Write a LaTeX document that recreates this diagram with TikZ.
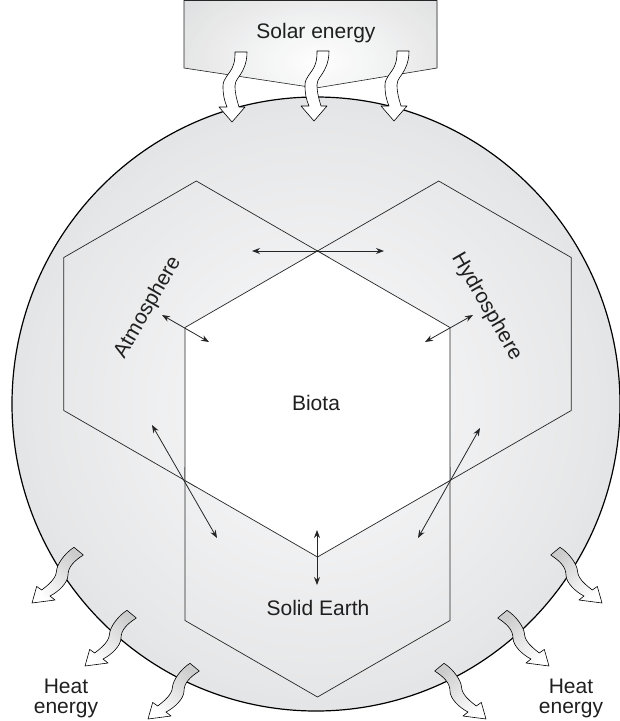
\documentclass[tikz,border=0pt]{standalone}
\usepackage{fontspec}
\setsansfont{Liberation Sans}
\usetikzlibrary{arrows.meta, calc}
\definecolor{rimgray}{RGB}{228,229,230}
\definecolor{coregray}{RGB}{251,251,252}
\definecolor{boxgray}{RGB}{222,223,224}
\tikzset{
  sphere edge/.style={draw=black!85, line width=0.7pt},
  cycle arrow/.style={
    {Stealth[length=8pt,width=6pt]}-{Stealth[length=8pt,width=6pt]},
    line width=0.8pt, draw=black!85
  },
  sphere label/.style={
    font=\sffamily\fontsize{21}{20}\selectfont, text=black!88,
    inner sep=0pt, align=center
  },
  solar arrow/.pic={
    \draw[fill=white, line width=0.6pt, line join=round]
      (0,0) -- (-13,-15) -- (-5,-15)
      .. controls (-8,-22) and (-9,-28) .. (-9,-36)
      .. controls (-9,-44) and (-2,-48) .. (1,-56)
      .. controls (3,-61) and (3,-66) .. (3,-70) -- (15,-70)
      .. controls (15,-64) and (14,-58) .. (11,-52)
      .. controls (7,-44) and (3,-42) .. (3,-36)
      .. controls (3,-28) and (5,-22) .. (7,-15) -- (13,-15) -- cycle;
  },
  heat arrow/.pic={
    \shade[draw=black, line width=0.6pt, line join=round,
      top color=black!20, bottom color=white, shading angle=-45]
      (0,0) -- (4.7,-16.6) -- (9.7,-13)
      .. controls (16,-18) and (24,-24) .. (24.5,-32)
      .. controls (25,-39) and (33,-50) .. (42,-55.7) -- (51.3,-48)
      .. controls (42,-42) and (36,-36) .. (36,-28)
      .. controls (36,-20) and (26,-11) .. (18,-7) -- (23,-3) -- cycle;
  },
  heat arrow mirror/.pic={
    \shade[draw=black, line width=0.6pt, line join=round,
      top color=black!20, bottom color=white, shading angle=45]
      (0,0) -- (-4.7,-16.6) -- (-9.7,-13)
      .. controls (-16,-18) and (-24,-24) .. (-24.5,-32)
      .. controls (-25,-39) and (-33,-50) .. (-42,-55.7) -- (-51.3,-48)
      .. controls (-42,-42) and (-36,-36) .. (-36,-28)
      .. controls (-36,-20) and (-26,-11) .. (-18,-7) -- (-23,-3) -- cycle;
  }
}

\begin{document}
\begin{tikzpicture}[x=1pt, y=-1pt]
\useasboundingbox (0,0) rectangle (620,721);

% ====== Earth system ======
\coordinate (earth) at (316,404);
% stepped radial grey, dark rim to pale core
\foreach \k in {0,...,44} {
  \pgfmathsetmacro{\ry}{307-4*\k}
  \pgfmathsetmacro{\rx}{\ry*0.99023}
  \pgfmathsetmacro{\p}{\ry/3.07}
  \fill[rimgray!\p!coregray] (earth) ellipse [x radius=\rx, y radius=\ry];
}
\draw[black, line width=1.2pt] (earth) ellipse [x radius=304, y radius=307];

% -- heat leaving the system --
\pic at (32,603) {heat arrow};
\pic at (85,666) {heat arrow};
\pic at (148,719) {heat arrow};
\pic at (602,603) {heat arrow mirror};
\pic at (549,666) {heat arrow mirror};
\pic at (486,719) {heat arrow mirror};

% ====== Spheres ======
\coordinate (biota) at (317.5,404);
\coordinate (atmos) at (196.3,334);
\coordinate (hydro) at (438.7,334);
\coordinate (solid) at (317.5,544);

\draw[sphere edge, shift={(atmos)}] (0,-153) -- (132.5,-76.5) -- (132.5,76.5) -- (0,153) -- (-132.5,76.5) -- (-132.5,-76.5) -- cycle;
\draw[sphere edge, shift={(hydro)}] (0,-153) -- (132.5,-76.5) -- (132.5,76.5) -- (0,153) -- (-132.5,76.5) -- (-132.5,-76.5) -- cycle;
\draw[sphere edge, shift={(solid)}] (0,-153) -- (132.5,-76.5) -- (132.5,76.5) -- (0,153) -- (-132.5,76.5) -- (-132.5,-76.5) -- cycle;
\draw[sphere edge, fill=white, shift={(biota)}] (0,-153) -- (132.5,-76.5) -- (132.5,76.5) -- (0,153) -- (-132.5,76.5) -- (-132.5,-76.5) -- cycle;

% ====== Solar input ======
\begin{scope}
  \clip (184,0.5) -- (437,0.5) -- (437,68) -- (316,88) -- (184,68) -- cycle;
  \foreach \k in {0,...,34} {
    \pgfmathsetmacro{\r}{170-5*\k}
    \pgfmathsetmacro{\p}{\r/1.7}
    \fill[boxgray!\p!white] (318,62) ellipse [x radius=\r, y radius=0.6*\r];
  }
\end{scope}
\draw[draw=black!85, line width=0.6pt]
  (184,0.5) -- (437,0.5) -- (437,68) -- (316,88) -- (184,68) -- cycle;
\node[sphere label, anchor=base] (sun) at (316,38) {Solar energy};

\pic at (232,122) {solar arrow};
\pic at (314,121) {solar arrow};
\pic at (394,121) {solar arrow};

% ====== Exchanges between spheres ======
\coordinate (ah) at (252,251);  \coordinate (ha) at (384,251);
\coordinate (ab) at (162,315);  \coordinate (ba) at (209,342);
\coordinate (hb) at (473,315);  \coordinate (bh) at (425,342);
\coordinate (as) at (152,425);  \coordinate (sa) at (217,538);
\coordinate (hs) at (480,428);  \coordinate (sh) at (418,538);
\coordinate (bs) at (317,530);  \coordinate (sb) at (317,585);

\draw[cycle arrow] (ah) -- (ha);
\draw[cycle arrow] (ab) -- (ba);
\draw[cycle arrow] (hb) -- (bh);
\draw[cycle arrow] (as) -- (sa);
\draw[cycle arrow] (hs) -- (sh);
\draw[cycle arrow] (bs) -- (sb);

% ====== Labels ======
\node[sphere label, anchor=base] (biotalbl) at (316,410) {Biota};
\node[sphere label, anchor=base] (solidlbl) at (318,615) {Solid Earth};
\node[sphere label, rotate=60] (atmoslbl) at (148,307.5) {Atmosphere};
\node[sphere label, rotate=-60] (hydrolbl) at (486.5,306.5) {Hydrosphere};
\node[sphere label, anchor=base] (heatl) at (66,713) {Heat\\energy};
\node[sphere label, anchor=base] (heatr) at (571,713) {Heat\\energy};

\end{tikzpicture}
\end{document}
